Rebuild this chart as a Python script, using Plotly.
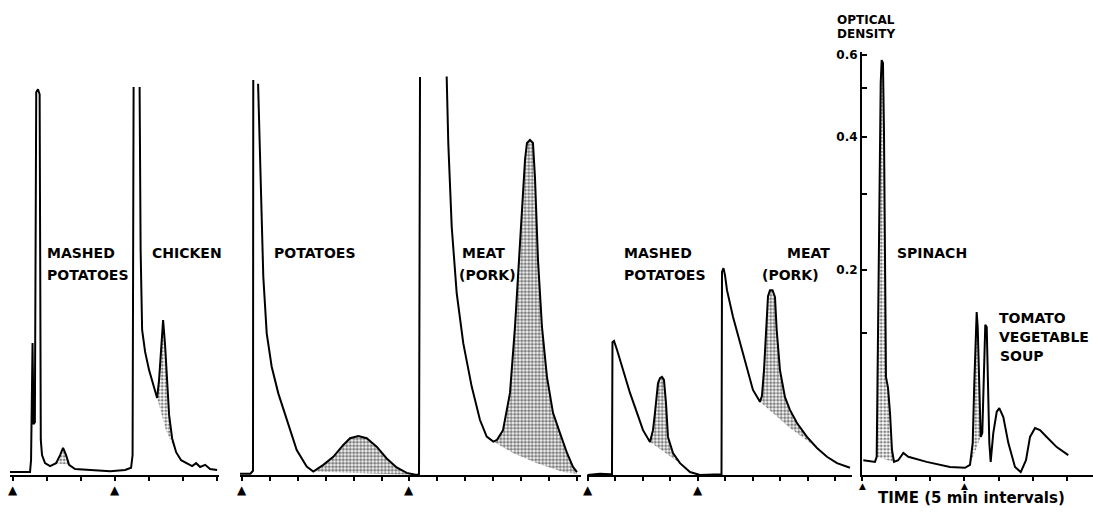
import plotly.graph_objects as go

# ---------------- data (time in minutes, recorder deflection in % of chart height) ----------------
# Panel 1: mashed potatoes -> chicken
p1_mashed_t = [-0.40, 2.54, 2.69, 2.91, 3.05, 3.25, 3.45, 3.70, 3.95, 4.12, 4.30, 4.74, 5.48, 6.36, 6.95, 7.39, 7.83, 8.27, 9.15, 11.35, 14.29, 16.49, 17.37, 17.59, 17.74]
p1_mashed_d = [0.7, 0.7, 3.5, 31.2, 12.0, 12.5, 90.5, 91.2, 90.0, 8.3, 4.7, 2.8, 2.1, 2.8, 4.7, 6.4, 4.7, 2.4, 1.4, 1.2, 0.9, 1.2, 1.7, 4.7, 91.7]
p1_chicken_t = [18.62, 18.77, 18.99, 19.43, 20.01, 20.60, 21.19, 21.48, 21.78, 22.07, 22.36, 22.66, 22.95, 23.39, 23.98, 24.71, 25.59, 26.33, 26.92, 27.50, 28.24, 28.97, 30.00]
p1_chicken_d = [91.7, 53.2, 34.3, 29.1, 24.8, 21.3, 18.2, 22.5, 30.7, 36.6, 30.7, 21.3, 14.2, 8.7, 5.4, 3.5, 2.8, 2.1, 2.8, 1.9, 2.4, 1.4, 1.2]

# Panel 2: potatoes -> meat (pork)
p2_up_t = [-0.27, 1.60, 2.05, 2.10]
p2_up_d = [0.3, 0.3, 1.0, 93.4]
p2_potato_t = [2.96, 3.43, 3.89, 4.50, 5.39, 6.57, 8.07, 9.86, 11.64, 12.82, 14.61, 16.39, 18.18, 19.38, 20.86, 22.36, 24.14, 25.93, 27.71, 29.50, 31.29, 31.70, 31.88]
p2_potato_d = [92.5, 70.5, 46.9, 33.5, 25.6, 19.3, 13.0, 5.9, 2.0, 0.8, 2.4, 4.3, 7.1, 8.7, 9.2, 8.7, 6.7, 3.9, 1.8, 0.5, 0.0, 0.2, 94.1]
p2_meat_t = [36.64, 36.93, 37.54, 38.43, 39.61, 41.11, 42.59, 43.79, 44.96, 45.63, 46.70, 47.95, 48.84, 49.73, 50.63, 50.98, 51.52, 52.05, 52.41, 52.95, 53.66, 54.55, 55.63, 56.88, 58.13, 59.20, 59.91]
p2_meat_d = [94.2, 78.4, 58.7, 43.0, 31.1, 20.9, 13.0, 9.1, 7.9, 8.3, 10.6, 19.4, 35.0, 54.8, 74.5, 78.5, 79.2, 78.5, 70.4, 50.8, 35.0, 23.2, 14.7, 9.9, 5.2, 1.9, 0.7]

# Panel 3: mashed potatoes -> meat (pork)
p3_t = [-0.09, 2.19, 4.01, 4.37, 4.46, 4.74, 5.28, 6.38, 7.65, 8.93, 10.02, 11.29, 11.84, 12.20, 12.75, 13.11, 13.48, 13.84, 14.21, 14.57, 15.48, 16.76, 18.58, 20.40, 24.04,
        24.32, 24.41, 24.68, 24.95, 25.32, 26.41, 27.69, 28.96, 30.05, 31.33, 31.69, 32.06, 32.42, 32.79, 33.15, 33.61, 34.06, 34.37, 34.97, 35.88, 36.79, 38.07, 39.89, 41.71, 43.53, 45.36, 47.72]
p3_d = [0.0, 0.3, 0.2, 0.2, 31.4, 31.7, 29.6, 24.8, 19.4, 14.7, 10.6, 7.8, 10.6, 14.7, 21.7, 22.9, 23.2, 22.5, 17.0, 9.0, 5.2, 2.8, 0.7, 0.0, 0.1,
        0.2, 48.0, 48.9, 47.3, 43.7, 37.4, 31.2, 24.8, 20.1, 17.3, 18.7, 24.8, 34.3, 42.3, 43.7, 43.7, 42.1, 34.3, 24.8, 18.4, 15.4, 12.3, 9.0, 6.4, 4.3, 2.8, 1.7]

# Panel 4: spinach -> tomato vegetable soup
p4_t = [0.19, 1.90, 2.15, 2.34, 2.53, 2.74, 2.88, 3.07, 3.22, 3.37, 3.51, 3.81, 4.10, 4.39, 4.69, 5.31, 6.05, 6.78, 9.47, 12.88, 15.08, 15.81, 16.21, 16.44, 16.65, 16.79, 16.94, 17.13, 17.38,
        17.61, 17.82, 18.05, 18.26, 18.45, 18.64, 18.84, 19.22, 19.72, 20.10, 20.69, 21.42, 22.40, 23.24, 24.01, 24.60, 25.33, 26.06, 27.04, 28.51, 30.20]
p4_d = [3.5, 3.1, 4.3, 33.6, 65.0, 92.7, 98.1, 97.4, 80.9, 49.2, 23.2, 20.6, 14.7, 5.9, 3.1, 3.5, 5.2, 4.3, 3.1, 1.9, 1.7, 2.4, 7.6, 21.7, 35.0, 38.5, 35.0, 21.7, 9.0,
        9.9, 25.5, 35.5, 35.0, 21.7, 7.6, 3.1, 9.9, 14.9, 15.8, 13.7, 7.6, 1.9, 0.7, 3.5, 9.0, 11.1, 10.6, 9.0, 6.6, 4.7]

# Shaded (stippled) peak areas: curve index range + lower skim line (right to left)
shades = [
    # (axis, curve_t, curve_d, i0, i1, skim_t, skim_d, density)
    ("x", p1_mashed_t, p1_mashed_d, 13, 17, [8.27, 6.36], [2.4, 2.8], 0.5),
    ("x", p1_chicken_t, p1_chicken_d, 6, 14, [23.98, 22.5, 21.19], [5.4, 10.5, 18.2], 0.5),
    ("x2", p2_potato_t, p2_potato_d, 9, 20, [31.29, 12.82], [0.0, 0.8], 0.65),
    ("x2", p2_meat_t, p2_meat_d, 8, 26, [59.91, 57.41, 52.77, 48.48, 44.96], [0.3, 0.7, 2.8, 5.2, 7.9], 0.65),
    ("x3", p3_t, p3_d, 11, 21, [16.76, 11.29], [2.8, 7.8], 0.6),
    ("x3", p3_t, p3_d, 34, 48, [42.26, 36.79, 31.33], [5.9, 11.1, 17.3], 0.6),
    ("x4", p4_t, p4_d, 2, 14, [4.69, 2.15], [3.1, 4.3], 0.5),
    ("x4", p4_t, p4_d, 21, 28, [17.38, 15.81], [9.0, 2.4], 0.5),
]

# Injection marks (minutes) per panel
arrows = {"x": [0, 15], "x2": [0, 30], "x3": [0, 20], "x4": [0, 15]}

# Optical density ticks (positions in deflection %, labels)
od_tickvals = [33.5, 48.5, 66.4, 79.9, 91.6, 99.3]
od_ticktext = ["", "0.2", "", "0.4", "", "0.6"]

# Labels: (axis, text, t, d)
labels = [
    ("x", "MASHED", 4.74, 52.5), ("x", "POTATOES", 4.74, 47.3), ("x", "CHICKEN", 20.16, 52.5),
    ("x2", "POTATOES", 5.45, 52.5), ("x2", "MEAT", 39.02, 52.5), ("x2", "(PORK)", 38.48, 47.3),
    ("x3", "MASHED", 6.19, 52.5), ("x3", "POTATOES", 6.19, 47.3), ("x3", "MEAT", 35.88, 52.5), ("x3", "(PORK)", 31.33, 47.3),
    ("x4", "SPINACH", 4.83, 52.5), ("x4", "TOMATO", 19.77, 37.1), ("x4", "VEGETABLE", 19.77, 32.6), ("x4", "SOUP", 19.91, 28.1),
]

# ---------------- figure ----------------
W, H = 1093, 512
T, B = 52, 37
PLOT_H = H - T - B
fig = go.Figure()

for ax, ct, cd, i0, i1, st, sd, dens in shades:
    px_ = ct[i0:i1 + 1] + st
    py_ = cd[i0:i1 + 1] + sd
    fig.add_trace(go.Scatter(x=px_, y=py_, xaxis=ax, yaxis="y", mode="none", fill="toself",
                             fillcolor="rgba(0,0,0,0)",
                             fillpattern=dict(shape=".", fgcolor="black", bgcolor="rgba(0,0,0,0)",
                                              size=3.5, solidity=dens),
                             hoverinfo="skip", showlegend=False))

curves = [("x", p1_mashed_t, p1_mashed_d), ("x", p1_chicken_t, p1_chicken_d),
          ("x2", p2_up_t, p2_up_d), ("x2", p2_potato_t, p2_potato_d), ("x2", p2_meat_t, p2_meat_d),
          ("x3", p3_t, p3_d), ("x4", p4_t, p4_d)]
for ax, t, d in curves:
    fig.add_trace(go.Scatter(x=t, y=d, xaxis=ax, yaxis="y", mode="lines",
                             line=dict(color="black", width=2), showlegend=False, hoverinfo="skip"))

bold = lambda s: dict(family="DejaVu Sans", size=s, color="black", weight="bold")
annotations = []
for ax, txt, t, d in labels:
    annotations.append(dict(text=txt, x=t, y=d, xref=ax, yref="y", xanchor="left", yanchor="middle",
                            showarrow=False, font=bold(14)))
# injection arrows below the time axes (smaller and closer to the axis on the last panel)
for ax, ts in arrows.items():
    off, size = (11.0, 9) if ax == "x4" else (15.0, 12)
    for t in ts:
        annotations.append(dict(text="▲", x=t, y=-off / PLOT_H, xref=ax, yref="paper",
                                xanchor="center", yanchor="middle", showarrow=False, font=bold(size)))
annotations += [
    dict(text="OPTICAL", x=835 / W, y=1 + 32.0 / PLOT_H, xref="paper", yref="paper", xanchor="left",
         yanchor="middle", showarrow=False, font=bold(12)),
    dict(text="DENSITY", x=835 / W, y=1 + 18.0 / PLOT_H, xref="paper", yref="paper", xanchor="left",
         yanchor="middle", showarrow=False, font=bold(12)),
    dict(text="TIME (5 min intervals)", x=2.0, y=-23.0 / PLOT_H, xref="x4", yref="paper", xanchor="left",
         yanchor="middle", showarrow=False, font=bold(15)),
]

def xaxis(dom, rng):
    return dict(domain=[dom[0] / W, dom[1] / W], range=rng, anchor="y", showline=True, linecolor="black",
                linewidth=2, ticks="outside", ticklen=4, tickwidth=1.5, tickcolor="black",
                tick0=0, dtick=5, showticklabels=False, showgrid=False, zeroline=False, fixedrange=True)

fig.update_layout(
    width=W, height=H, paper_bgcolor="white", plot_bgcolor="white",
    margin=dict(l=0, r=0, t=T, b=B, pad=0),
    xaxis=xaxis((10, 218.5), [-0.40, 30.2]),
    xaxis2=xaxis((240, 581), [-0.27, 60.63]),
    xaxis3=xaxis((587, 852), [-0.18, 48.09]),
    xaxis4=xaxis((862, 1093), [0, 33.82]),
    yaxis=dict(range=[0, 100], anchor="x4", side="left", showline=True, linecolor="black", linewidth=2,
               ticks="inside", ticklen=5, tickwidth=1.5, tickcolor="black",
               tickvals=od_tickvals, ticktext=od_ticktext, showgrid=False, zeroline=False,
               tickfont=bold(12), fixedrange=True),
    annotations=annotations,
    showlegend=False,
)

fig.write_html("out.html", config={"displayModeBar": False},
               post_script="document.body.style.margin='0';")
